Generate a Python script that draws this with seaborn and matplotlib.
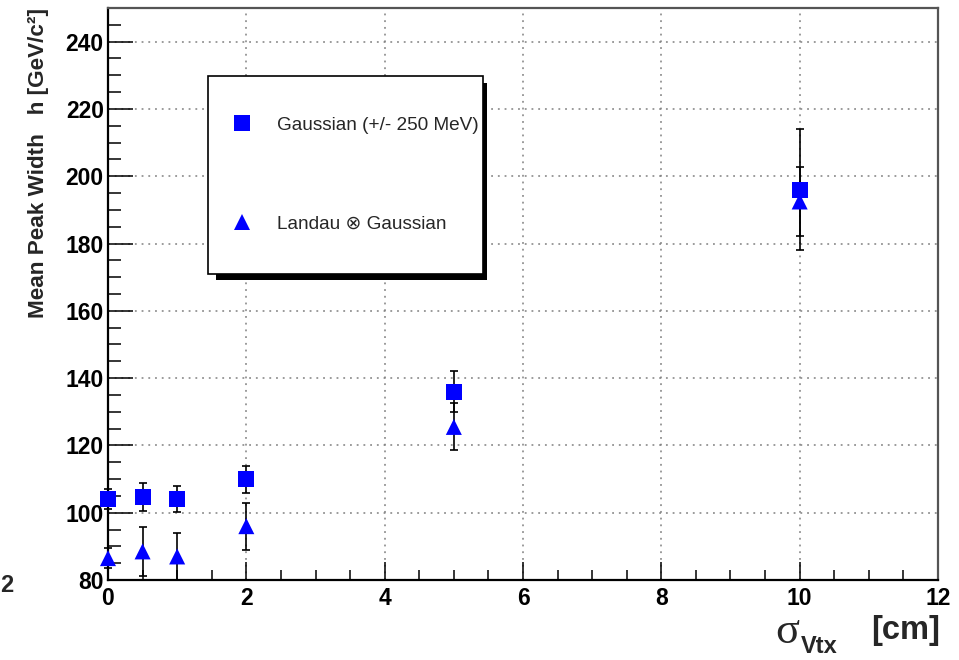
import matplotlib
matplotlib.use("Agg")
import matplotlib.pyplot as plt
from matplotlib.lines import Line2D
from matplotlib.patches import Rectangle
from matplotlib.ticker import MultipleLocator
import numpy as np
import pandas as pd
import seaborn as sns

# Vertex smearing (cm) and fitted mean peak widths (GeV/c^2)
sigma_vtx = [0, 0.5, 1, 2, 5, 10]
gauss_width = [104, 104.7, 104, 110, 136, 196]
gauss_err = [3, 4.1, 3.8, 4, 6, 18]
landau_width = [86.5, 88.5, 87, 96, 125.5, 192.5]
landau_err = [3, 7.2, 7, 7, 7, 10.3]

gauss_label = "Gaussian (+/- 250 MeV)"
landau_label = "Landau \u2297 Gaussian"
x_ticks = [0, 2, 4, 6, 8, 10, 12]
y_ticks = [80, 100, 120, 140, 160, 180, 200, 220, 240]

W, H = 959, 660

sns.set_style("ticks")
plt.rcParams["font.family"] = ["Liberation Sans", "DejaVu Sans"]

fig = plt.figure(figsize=(W / 100, H / 100), dpi=100)
ax = fig.add_axes([108 / W, 1 - 580 / H, 830 / W, 572 / H])

df = pd.DataFrame({
    "sigma": sigma_vtx + sigma_vtx,
    "width": gauss_width + landau_width,
    "err": gauss_err + landau_err,
    "fit": [gauss_label] * len(sigma_vtx) + [landau_label] * len(sigma_vtx),
})

blue = "#0000ff"

# error bars underneath the markers
for lab in (gauss_label, landau_label):
    sub = df[df["fit"] == lab]
    ax.errorbar(sub["sigma"], sub["width"], yerr=sub["err"], fmt="none",
                ecolor="black", elinewidth=1.2, capsize=3, capthick=1.2,
                zorder=2, clip_on=False)

sns.scatterplot(data=df, x="sigma", y="width", style="fit",
                markers={gauss_label: "s", landau_label: "^"},
                color=blue, s=133, linewidth=0, ax=ax, zorder=3,
                legend=False, clip_on=False)

ax.set_xlim(0, 12)
ax.set_ylim(80, 250)
ax.set_xticks(x_ticks)
ax.set_yticks(y_ticks)
ax.xaxis.set_minor_locator(MultipleLocator(0.5))
ax.yaxis.set_minor_locator(MultipleLocator(5))
ax.set_xlabel("")
ax.set_ylabel("")

ax.grid(True, which="major", color="#808080", linestyle=(0, (1.2, 3.2)),
        linewidth=1.1)
ax.set_axisbelow(True)

ax.tick_params(axis="both", which="both", direction="in", colors="black",
               top=False, right=False)
ax.tick_params(axis="y", which="major", length=18, width=1.1, pad=3,
               labelsize=16.5)
ax.tick_params(axis="y", which="minor", length=9, width=1.1)
ax.tick_params(axis="x", which="major", length=13, width=1.1, pad=5,
               labelsize=16.5)
ax.tick_params(axis="x", which="minor", length=7, width=1.1)
for lbl in ax.get_xticklabels() + ax.get_yticklabels():
    lbl.set_fontweight("bold")

for side in ("left", "bottom"):
    ax.spines[side].set_color("black")
    ax.spines[side].set_linewidth(1.6)
for side in ("top", "right"):
    ax.spines[side].set_visible(True)
    ax.spines[side].set_color("#555555")
    ax.spines[side].set_linewidth(1.6)

# axis titles
fig.text(39 / W, 1 - 8 / H, "Mean Peak Width   h [GeV/c\u00b2]",
         rotation=90, ha="center", va="top", fontsize=16.2, fontweight="bold")
fig.text(787 / W, 1 - 632 / H, "\u03c3", ha="center", va="center",
         fontsize=32, family=["Liberation Serif", "DejaVu Serif"])
fig.text(801 / W, 1 - 653 / H, "Vtx", ha="left", va="baseline",
         fontsize=17, fontweight="bold")
fig.text(940 / W, 1 - 630 / H, "[cm]", ha="right", va="center",
         fontsize=23.5, fontweight="bold")
fig.text(0 / W, 1 - 586 / H, "2", ha="left", va="center",
         fontsize=17, fontweight="bold")

# legend box with drop shadow
def px_rect(x0, y0, x1, y1, **kw):
    return Rectangle((x0 / W, 1 - y1 / H), (x1 - x0) / W, (y1 - y0) / H,
                     transform=fig.transFigure, **kw)

fig.add_artist(px_rect(216, 83, 487, 280, facecolor="black",
                       edgecolor="none", zorder=3))
fig.add_artist(px_rect(208, 76, 483, 274, facecolor="white",
                       edgecolor="black", linewidth=1.2, zorder=4))

handles = [
    Line2D([], [], marker="s", color=blue, markersize=11.5, linestyle="none",
           markeredgewidth=0),
    Line2D([], [], marker="^", color=blue, markersize=11.5, linestyle="none",
           markeredgewidth=0),
]
fig.legend(handles, [gauss_label, landau_label], loc="center left",
           bbox_to_anchor=(232.6 / W, 1 - 174.5 / H),
           bbox_transform=fig.transFigure, frameon=False, borderpad=0,
           borderaxespad=0, handlelength=1.0, handletextpad=1.35,
           labelspacing=4.3, fontsize=13.7)

fig.savefig("out.png", dpi=100)
